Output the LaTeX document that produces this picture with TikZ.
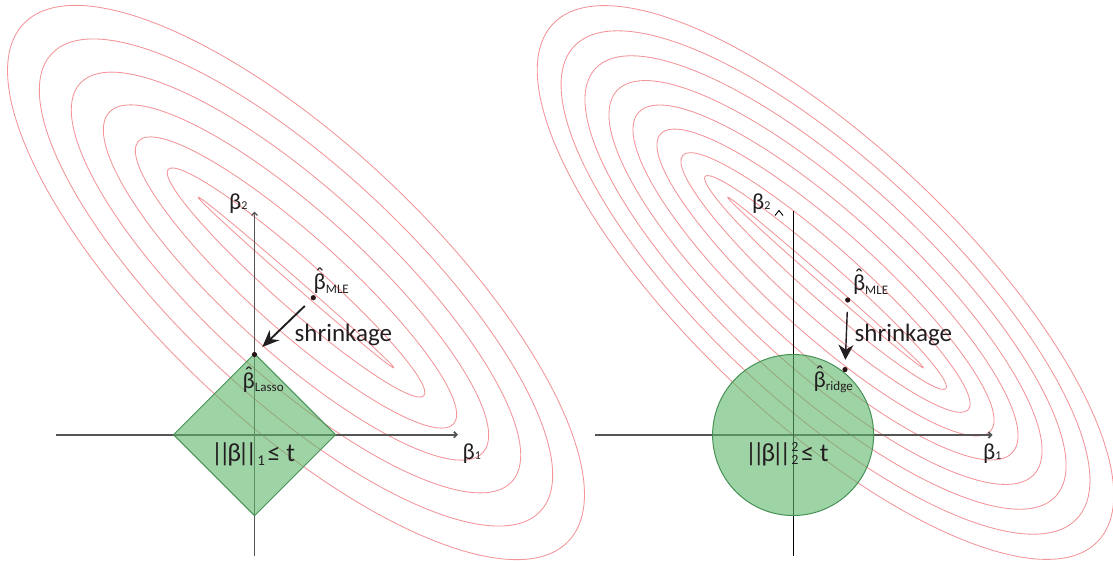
\documentclass[tikz,border=0pt]{standalone}
\usepackage{fontspec}
\setmainfont{Carlito}
\usetikzlibrary{arrows.meta}
\definecolor{ell}{RGB}{242,148,152}
\definecolor{grn}{RGB}{93,182,107}
\definecolor{grnedge}{RGB}{70,145,85}
\definecolor{axgray}{RGB}{85,85,85}
\definecolor{dotc}{RGB}{40,20,20}
\definecolor{txt}{RGB}{35,31,32}
\newcommand\bhat{\leavevmode\ooalign{β\cr\hidewidth\raisebox{0.26em}{\char"02C6}\hidewidth\cr}}
\newcommand\bsmall[1]{{\fontsize{12}{12}\selectfont #1}}
\newcommand\bars{|\kern-0.17em|}
\newcommand\normb{\bars\kern-0.13emβ\kern-0.13em\bars}
\begin{document}
\begin{tikzpicture}[x=1pt,y=-1pt,
  contour/.style={draw=ell, line width=0.85pt},
  axisg/.style={draw=axgray, line width=1.7pt},
  axisk/.style={draw=black, line width=1.2pt},
  region/.style={fill=grn, fill opacity=0.6, draw=grnedge, line width=1pt},
  dotst/.style={circle, fill=dotc, inner sep=0pt, minimum size=5.2pt},
  lbl/.style={inner sep=0pt, anchor=base west, text=txt},
  shrinkL/.style={draw=txt, line width=1.9pt, -{Stealth[length=17pt,width=14pt]}},
  shrinkR/.style={draw=txt, line width=1.4pt, -{Stealth[length=15pt,width=15pt]}},
  barb/.style={-{Straight Barb[length=3pt,width=6pt]}}]
\useasboundingbox (0,0) rectangle (1113,560);
\clip (0,0) rectangle (1113,560);
% ---- contours, left panel
\foreach \k in {0,...,6}{
  \pgfmathsetmacro\ra{129.7+41*\k}
  \pgfmathsetmacro\rb{ifthenelse(\k==0,3.5,22.6*\k+1.5)}
  \pgfmathsetmacro\th{41.1+0.4*\k}
  \draw[contour, shift={(296,282.5)}, rotate=-\th] (0,0) ellipse [x radius=\ra, y radius=\rb];
}
% ---- contours, right panel
\foreach \k in {0,...,8}{
  \pgfmathsetmacro\ra{129.7+30.75*\k}
  \pgfmathsetmacro\rb{ifthenelse(\k==0,3.5,16.9*\k+1)}
  \pgfmathsetmacro\th{41.1+0.3*\k}
  \draw[contour, shift={(825.5,282.5)}, rotate=-\th] (0,0) ellipse [x radius=\ra, y radius=\rb];
}
% ---- left axes
\coordinate (lxs) at (56,434.7);
\coordinate (lxe) at (458,434.7);
\coordinate (lys) at (254.5,556);
\coordinate (lye) at (254.5,211.5);
\draw[axisg, barb] (lxs) -- (lxe);
\draw[axisg, line width=1.3pt, barb] (lys) -- (lye);
% ---- right axes
\coordinate (rxs) at (595,435);
\coordinate (rxe) at (992.5,435);
\coordinate (rys) at (793.1,556);
\coordinate (rye) at (793.1,211);
\draw[axisg, barb] (rxs) -- (rxe);
\draw[axisk] (rys) -- (rye);
\coordinate (c1) at (775,215.5);
\coordinate (c2) at (779,210.5);
\coordinate (c3) at (783,215.5);
\draw[black, line width=0.9pt] (c1) -- (c2) -- (c3);
% ---- constraint regions
\coordinate (dT) at (254.5,353.7);
\coordinate (dR) at (335.5,434.7);
\coordinate (dB) at (254.5,515.7);
\coordinate (dL) at (173.5,434.7);
\path[region] (dT) -- (dR) -- (dB) -- (dL) -- cycle;
\path[region] (793.1,435) circle[radius=80.5];
% ---- points
\node[dotst] (mleL) at (313.3,297.7) {};
\node[dotst] (lasso) at (254.5,354.5) {};
\node[dotst] (mleR) at (847.7,300) {};
\node[dotst] (ridge) at (845,369.6) {};
% ---- arrows
\draw[shrinkL, shorten <=9pt, shorten >=8pt] (mleL) -- (lasso);
\draw[shrinkR, shorten <=9pt, shorten >=7pt] (mleR) -- (ridge);
% ---- labels left
\node[lbl, font=\fontsize{23}{26}\selectfont] (b2L) at (229,209.5) {β\bsmall{2}};
\node[lbl, font=\fontsize{23}{26}\selectfont] (b1L) at (462.5,459) {β\bsmall{1}};
\node[lbl, font=\fontsize{23}{26}\selectfont] (mleLt) at (313.5,289) {\bhat\raisebox{-4.5pt}{\fontsize{13}{13}\selectfont MLE}};
\node[lbl, font=\fontsize{23}{26}\selectfont] (lassoT) at (242.5,388) {\bhat\raisebox{-3pt}{\fontsize{13}{13}\selectfont Lasso}};
\node[lbl, font=\fontsize{25}{28}\selectfont] (shrL) at (294.5,341.7) {shrinkage};
\node[lbl, font=\fontsize{26}{28}\selectfont] (normL) at (211,461) {\normb\raisebox{-4pt}{\fontsize{15}{15}\selectfont 1}\kern0.1em≤ t};
% ---- labels right
\node[lbl, font=\fontsize{23}{26}\selectfont] (b2R) at (752,209.5) {β\bsmall{2}};
\node[lbl, font=\fontsize{23}{26}\selectfont] (b1R) at (983,459) {β\bsmall{1}};
\node[lbl, font=\fontsize{23}{26}\selectfont] (mleRt) at (852.8,290) {\bhat\raisebox{-4.5pt}{\fontsize{13}{13}\selectfont MLE}};
\node[lbl, font=\fontsize{23}{26}\selectfont] (ridgeT) at (813.5,387) {\bhat\raisebox{-3pt}{\fontsize{13}{13}\selectfont ridge}};
\node[lbl, font=\fontsize{25}{28}\selectfont] (shrR) at (854.5,341) {shrinkage};
\node[lbl, font=\fontsize{26}{28}\selectfont] (normR) at (745,461) {\normb\rlap{\raisebox{10pt}{\fontsize{14}{14}\selectfont 2}}\raisebox{-3.5pt}{\fontsize{14}{14}\selectfont 2}\kern0.1em≤ t};
\end{tikzpicture}
\end{document}
